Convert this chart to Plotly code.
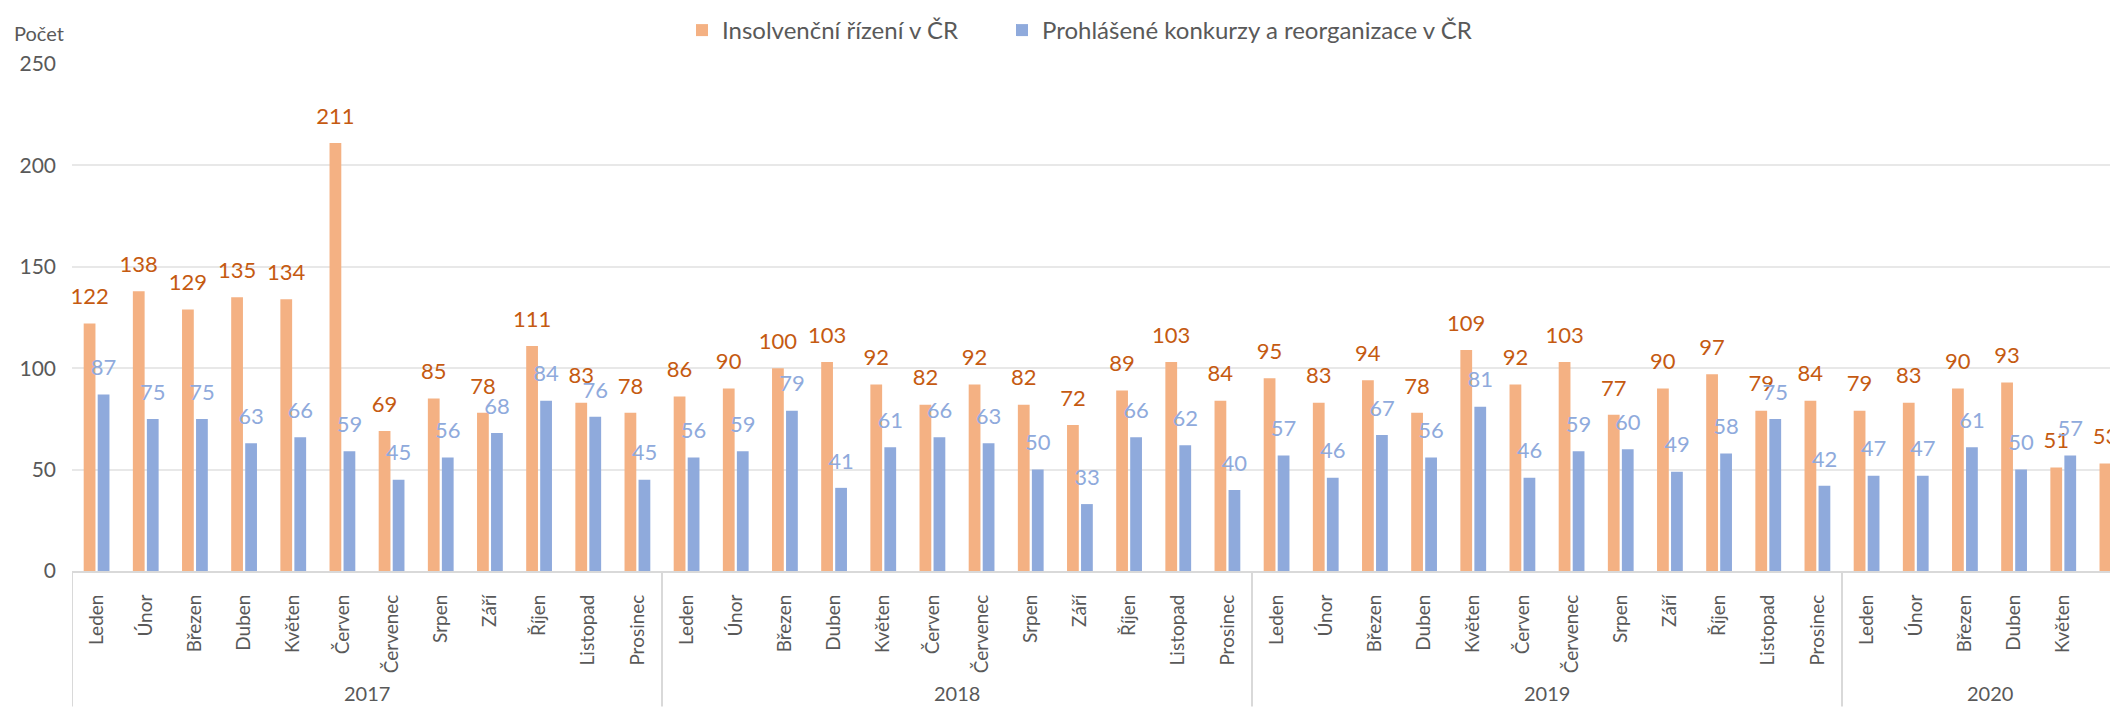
import plotly.graph_objects as go

years = ["2017", "2018", "2019", "2020"]
months = ["Leden", "Únor", "Březen", "Duben", "Květen", "Červen",
          "Červenec", "Srpen", "Září", "Říjen", "Listopad", "Prosinec"]
months_per_year = [12, 12, 12, 6]
month_labels = []
for n in months_per_year:
    month_labels += months[:n]

insolvencni_rizeni = [122, 138, 129, 135, 134, 211, 69, 85, 78, 111, 83, 78,
                      86, 90, 100, 103, 92, 82, 92, 82, 72, 89, 103, 84,
                      95, 83, 94, 78, 109, 92, 103, 77, 90, 97, 79, 84,
                      79, 83, 90, 93, 51, 53]
konkurzy_reorganizace = [87, 75, 75, 63, 66, 59, 45, 56, 68, 84, 76, 45,
                         56, 59, 79, 41, 61, 66, 63, 50, 33, 66, 62, 40,
                         57, 46, 67, 56, 81, 46, 59, 60, 49, 58, 75, 42,
                         47, 47, 61, 50, 57, 74]

series_names = ["Insolvenční řízení v ČR", "Prohlášené konkurzy a reorganizace v ČR"]

FONT = "Lato"
GREY = "#595959"
ORANGE = "#F4B183"
ORANGE_TXT = "#C55A11"
BLUE = "#8FAADC"
BLUE_TXT = "#8FAADC"
LABEL_SIZE = 22


def labels(vals):
    # value on the first line, an invisible short second line lifts the label off the bar
    return [f"<span style='font-size:{LABEL_SIZE}px'>{v}</span><br>"
            f"<span style='color:rgba(0,0,0,0)'>.</span>" for v in vals]


x = list(range(len(month_labels)))

fig = go.Figure()
fig.add_trace(go.Bar(
    x=x, y=insolvencni_rizeni, name=series_names[0], legend="legend",
    marker=dict(color=ORANGE, line=dict(width=0)),
    text=labels(insolvencni_rizeni), textposition="outside",
    textfont=dict(family=FONT, size=11, color=ORANGE_TXT),
    constraintext="none", cliponaxis=False, hoverinfo="x+y",
))
fig.add_trace(go.Bar(
    x=x, y=konkurzy_reorganizace, name=series_names[1], legend="legend2",
    marker=dict(color=BLUE, line=dict(width=0)),
    text=labels(konkurzy_reorganizace), textposition="outside",
    textfont=dict(family=FONT, size=11, color=BLUE_TXT),
    constraintext="none", cliponaxis=False, hoverinfo="x+y",
))

# the page body has an 8px margin, so the figure is offset by 8px
PAGE_OFF = 8
W, H = 2118 - PAGE_OFF, 707 - PAGE_OFF
ML, MR, MT, MB = 64, 0, 47, 136
plot_w = W - ML - MR
plot_h = H - MT - MB
cat_px = 590.0 / 12
x_right = -0.5 + plot_w / cat_px

start = 0
shapes = []
annotations = []
for yr, n in zip(years, months_per_year):
    shapes.append(dict(type="line", xref="x", yref="paper",
                       x0=start - 0.5, x1=start - 0.5, y0=0, y1=-(MB + 2) / plot_h,
                       line=dict(color="#D9D9D9", width=2)))
    annotations.append(dict(xref="x", yref="paper", x=start + (n - 1) / 2,
                            y=-124.5 / plot_h, yanchor="middle",
                            text=yr, showarrow=False,
                            font=dict(family=FONT, size=20, color=GREY)))
    start += n

annotations.append(dict(xref="paper", yref="paper", x=-(ML - 4) / plot_w, xanchor="left",
                        y=1 + (MT - 15) / plot_h, yanchor="middle", text="Počet",
                        showarrow=False, font=dict(family=FONT, size=20, color=GREY)))

legend_style = dict(orientation="h", xanchor="left", yanchor="top",
                    y=1 + (MT + 10) / plot_h,
                    font=dict(family=FONT, size=24, color=GREY),
                    itemwidth=30, bgcolor="rgba(0,0,0,0)")

fig.update_layout(
    width=W, height=H,
    margin=dict(l=ML, r=MR, t=MT, b=MB),
    paper_bgcolor="white", plot_bgcolor="white",
    barmode="group", bargap=0.43, bargroupgap=0.16,
    font=dict(family=FONT, color=GREY),
    showlegend=True,
    legend=dict(legend_style, x=(674 - ML) / plot_w),
    legend2=dict(legend_style, x=(994 - ML) / plot_w),
    shapes=shapes, annotations=annotations,
    xaxis=dict(range=[-0.5, x_right], tickmode="array", tickvals=x, ticktext=month_labels,
               tickangle=-90, tickfont=dict(family=FONT, size=19, color=GREY),
               showgrid=False, showline=True, linecolor="#D9D9D9", linewidth=2,
               ticks="", ticklabelstandoff=14, zeroline=False, fixedrange=True),
    yaxis=dict(range=[0, 250], tickvals=[0, 50, 100, 150, 200, 250],
               tickfont=dict(family=FONT, size=21, color=GREY),
               showgrid=True, gridcolor="#E8E8E8", gridwidth=1.5,
               showline=False, zeroline=False, ticks="", ticklabelstandoff=15),
)

fig.write_html("out.html")
